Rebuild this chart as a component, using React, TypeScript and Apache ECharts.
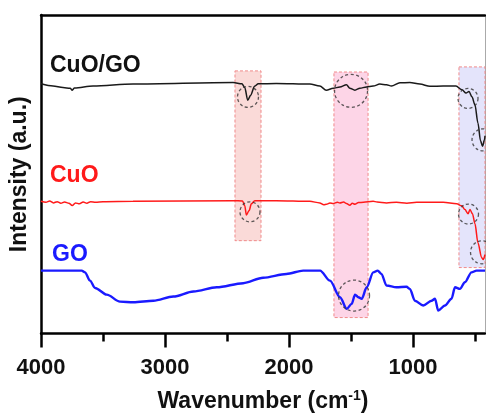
import React, { useEffect, useRef } from "react";
import * as echarts from "echarts";

const FONT = 'Arial, "Liberation Sans", sans-serif';

const majorTicks = [4000, 3000, 2000, 1000];
const minorTicks = [3500, 2500, 1500, 500];

// CuO/GO spectrum [wavenumber, intensity]
const cuoGo: number[][] = [
  [4000, 78.4], [3903, 77.7], [3823, 77.2], [3765, 77.0], [3748, 76.4], [3730, 77.1], [3580, 77.7],
  [3258, 78.3], [2451, 78.8], [2380, 78.4], [2357, 77.2], [2333, 73.2], [2310, 74.8], [2278, 77.6],
  [2248, 78.4], [2104, 78.5], [1832, 78.3], [1752, 77.7], [1700, 76.4], [1644, 77.0], [1590, 77.4],
  [1537, 78.1], [1510, 77.0], [1469, 76.4], [1429, 77.0], [1376, 77.4], [1322, 77.7], [1268, 78.3],
  [1214, 78.1], [1174, 77.7], [1106, 78.7], [1026, 78.8], [945, 78.3], [864, 77.6], [757, 77.7],
  [654, 77.7], [605, 76.5], [573, 75.5], [549, 76.0], [525, 74.3], [501, 71.8], [477, 66.1],
  [456, 60.5], [440, 58.8], [424, 60.8], [420, 62.1],
];

// CuO spectrum
const cuo: number[][] = [
  [4000, 41.5], [3960, 41.2], [3930, 41.6], [3900, 41.0], [3870, 41.4], [3840, 40.9], [3810, 41.3],
  [3775, 40.9], [3748, 40.2], [3722, 41.0], [3690, 40.7], [3660, 41.3], [3630, 40.9], [3600, 41.4],
  [3560, 41.2], [3500, 41.4], [3258, 41.5], [2451, 41.7], [2375, 41.6], [2357, 40.1], [2344, 37.2],
  [2322, 38.6], [2304, 40.7], [2276, 41.7], [2104, 41.7], [1832, 41.5], [1752, 41.0], [1720, 40.4],
  [1698, 40.6], [1670, 41.0], [1644, 40.8], [1610, 41.2], [1590, 41.0], [1560, 41.3], [1537, 40.8],
  [1510, 40.3], [1490, 40.9], [1469, 40.6], [1440, 41.1], [1400, 41.2], [1322, 41.5], [1290, 41.3],
  [1214, 41.0], [1134, 41.2], [1050, 40.9], [970, 41.2], [757, 41.2], [648, 40.7], [608, 40.1],
  [582, 38.9], [557, 37.6], [541, 38.9], [521, 37.6], [501, 34.5], [477, 28.5], [447, 23.8],
  [434, 23.2], [420, 24.8],
];

// GO spectrum
const go: number[][] = [
  [4000, 19.75], [3672, 19.75], [3645, 19.2], [3605, 16.6], [3564, 14.3], [3470, 12.2], [3363, 10.0],
  [3255, 9.8], [3094, 10.3], [2933, 11.6], [2771, 13.2], [2583, 14.5], [2370, 15.8], [2209, 17.5],
  [2021, 18.7], [1886, 19.75], [1750, 19.75], [1670, 16.6], [1589, 11.4], [1535, 7.75], [1495, 9.3],
  [1468, 12.2], [1441, 11.4], [1414, 10.9], [1374, 14.5], [1321, 19.2], [1285, 19.75], [1255, 18.7],
  [1214, 15.05], [1134, 14.5], [1053, 14.7], [1026, 14.0], [985, 10.3], [918, 8.8], [851, 10.3],
  [823, 10.9], [797, 7.2], [743, 8.8], [690, 10.9], [662, 14.5], [622, 14.0], [582, 16.1],
  [529, 19.2], [488, 19.75], [420, 19.75],
];

// highlighted bands
const bandFrom = [2436, 1638, 630];
const bandTo = [2226, 1363, 420];
const bandTop = [82.45, 82.1, 83.7];
const bandBottom = [29.15, 5.0, 20.7];
const bandFill = ["#fadad8", "#fdd5e7", "#e4e4fb"];

// dashed circles: [wavenumber, intensity, diameter]
const circles: number[][] = [
  [2331, 74.3, 21], [1500, 76.2, 33], [557, 73.8, 20], [436, 60.8, 22],
  [2315, 38.2, 20], [553, 37.5, 20], [444, 25.5, 23], [1476, 11.9, 31],
];

const seriesNames = ["CuO/GO", "CuO", "GO"];
const seriesColors = ["#1a1a1a", "#ff1a1a", "#1a1aff"];

export default function App() {
  const ref = useRef<HTMLDivElement>(null);
  useEffect(() => {
    if (!ref.current) return;
    const chart = echarts.init(ref.current, undefined, { renderer: "svg" });
    const bands = bandFrom.map((f, i) => [
      {
        xAxis: f,
        yAxis: bandTop[i],
        itemStyle: {
          color: bandFill[i],
          borderColor: "#f08a8a",
          borderWidth: 1,
          borderType: [3, 2],
        },
      },
      { xAxis: bandTo[i], yAxis: bandBottom[i] },
    ]);
    const option: any = {
      animation: false,
      grid: { left: 41, right: 1, top: 15, bottom: 79.5, outerBoundsMode: "none", containLabel: false },
      xAxis: [
        {
          type: "value",
          inverse: true,
          min: 420,
          max: 4000,
          position: "bottom",
          splitLine: { show: false },
          axisLine: { lineStyle: { color: "#000", width: 2.5 } },
          axisTick: {
            customValues: majorTicks,
            length: 14,
            lineStyle: { color: "#000", width: 2.5 },
          },
          axisLabel: {
            customValues: majorTicks,
            formatter: (v: number) => String(v),
            margin: 22,
            fontSize: 22,
            fontWeight: "bold",
            fontFamily: FONT,
            color: "#111",
          },
          name: "Wavenumber (cm{sup|-1})",
          nameLocation: "middle",
          nameGap: 54,
          nameTextStyle: {
            fontSize: 23,
            fontWeight: "bold",
            fontFamily: FONT,
            color: "#111",
            verticalAlign: "top",
            rich: {
              sup: {
                fontSize: 14,
                fontWeight: "bold",
                fontFamily: FONT,
                color: "#111",
                padding: [0, 0, 11, 0],
              },
            },
          },
        },
        {
          type: "value",
          inverse: true,
          min: 420,
          max: 4000,
          position: "bottom",
          splitLine: { show: false },
          axisLine: { show: false },
          axisTick: {
            customValues: minorTicks,
            length: 8,
            lineStyle: { color: "#000", width: 2.5 },
          },
          axisLabel: { show: false },
        },
        {
          type: "value",
          inverse: true,
          min: 420,
          max: 4000,
          position: "top",
          splitLine: { show: false },
          axisLine: { lineStyle: { color: "#000", width: 2.5 } },
          axisTick: { show: false },
          axisLabel: { show: false },
        },
      ],
      yAxis: [
        {
          type: "value",
          min: 0,
          max: 100,
          splitLine: { show: false },
          axisTick: { show: false },
          axisLabel: { show: false },
          axisLine: { show: true, lineStyle: { color: "#000", width: 2.5 } },
          name: "Intensity (a.u.)",
          nameLocation: "middle",
          nameGap: 12,
          nameTextStyle: {
            fontSize: 23,
            fontWeight: "bold",
            fontFamily: FONT,
            color: "#111",
          },
        },
        {
          type: "value",
          min: 0,
          max: 100,
          position: "right",
          splitLine: { show: false },
          axisTick: { show: false },
          axisLabel: { show: false },
          axisLine: { show: true, lineStyle: { color: "#aaa", width: 1 } },
        },
      ],
      series: [
        {
          type: "line",
          data: [],
          z: 1,
          silent: true,
          markArea: { silent: true, label: { show: false }, data: bands },
        },
        ...[cuoGo, cuo, go].map((d, i) => ({
          name: seriesNames[i],
          type: "line",
          data: d,
          z: 3,
          showSymbol: false,
          smooth: 0.3,
          smoothMonotone: "x",
          lineStyle: { color: seriesColors[i], width: i === 2 ? 2.4 : 1.5 },
        })),
        {
          type: "scatter",
          data: circles,
          z: 4,
          symbol: "circle",
          symbolSize: (v: number[]) => v[2],
          itemStyle: {
            color: "rgba(0,0,0,0)",
            borderColor: "#333",
            borderWidth: 1.3,
            borderType: [3, 2.5],
          },
        },
      ],
      graphic: [
        { type: "text", x: 50, y: 64, style: { text: seriesNames[0], fill: "#111", fontSize: 23, fontWeight: "bold", fontFamily: FONT, verticalAlign: "middle" } },
        { type: "text", x: 50, y: 174, style: { text: seriesNames[1], fill: "#ff1a1a", fontSize: 23, fontWeight: "bold", fontFamily: FONT, verticalAlign: "middle" } },
        { type: "text", x: 52, y: 253, style: { text: seriesNames[2], fill: "#1a1aff", fontSize: 23, fontWeight: "bold", fontFamily: FONT, verticalAlign: "middle" } },
      ],
    };
    chart.setOption(option);
    return () => chart.dispose();
  }, []);
  return (
    <div
      ref={ref}
      style={{ position: "fixed", left: 0, top: 0, width: 486, height: 413 }}
    />
  );
}
